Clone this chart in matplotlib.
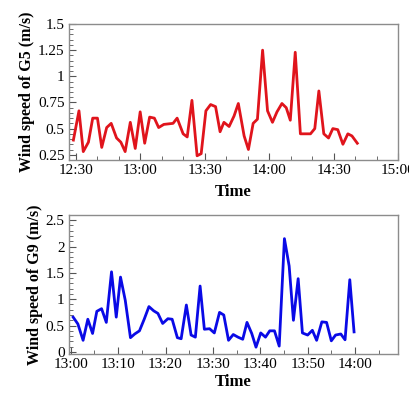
import matplotlib
matplotlib.use("Agg")
import matplotlib.pyplot as plt
from matplotlib.ticker import MultipleLocator, FuncFormatter

# G5: minutes after 12:00 and wind speed (m/s)
g5_minutes = [28.8, 31.4, 33.4, 35.8, 37.8, 40.0, 42.0, 44.3, 46.4, 48.9,
              50.9, 52.9, 55.3, 57.6, 59.9, 62.0, 64.3, 66.5, 68.5, 70.9,
              73.0, 75.2, 77.1, 79.9, 81.8, 84.0, 86.4, 88.3, 90.5, 92.7,
              95.0, 97.1, 98.9, 101.3, 103.6, 105.6, 108.3, 110.3, 112.5, 114.5,
              116.9, 119.2, 121.5, 123.6, 125.9, 127.9, 129.8, 132.1, 134.5, 136.7,
              139.2, 141.2, 143.1, 145.4, 147.6, 149.6, 151.9, 154.3, 156.6, 158.5,
              161.0]
g5_speed = [0.39, 0.67, 0.28, 0.37, 0.60, 0.60, 0.32, 0.51, 0.55, 0.41,
            0.37, 0.28, 0.56, 0.31, 0.66, 0.36, 0.61, 0.60, 0.51, 0.54,
            0.545, 0.55, 0.60, 0.45, 0.42, 0.77, 0.24, 0.26, 0.67, 0.73,
            0.71, 0.47, 0.56, 0.52, 0.62, 0.74, 0.43, 0.30, 0.55, 0.59,
            1.25, 0.67, 0.56, 0.66, 0.74, 0.70, 0.58, 1.23, 0.45, 0.45,
            0.45, 0.50, 0.86, 0.45, 0.41, 0.50, 0.49, 0.35, 0.45, 0.43,
            0.36]

# G9: minutes after 13:00 and wind speed (m/s)
g9_minutes = [0.5, 1.5, 2.6, 3.6, 4.6, 5.5, 6.5, 7.5, 8.6, 9.6,
              10.5, 11.5, 12.6, 13.5, 14.5, 15.5, 16.5, 17.5, 18.4, 19.4,
              20.5, 21.4, 22.5, 23.3, 24.4, 25.4, 26.3, 27.3, 28.2, 29.3,
              30.3, 31.4, 32.3, 33.3, 34.3, 35.3, 36.3, 37.2, 38.2, 39.1,
              40.1, 41.1, 42.0, 43.0, 44.0, 45.1, 46.1, 47.0, 48.0, 48.9,
              50.0, 51.0, 51.9, 53.0, 54.0, 55.0, 55.9, 57.0, 57.9, 58.9,
              59.8]
g9_speed = [0.66, 0.53, 0.22, 0.62, 0.35, 0.77, 0.82, 0.56, 1.52, 0.66,
            1.42, 0.98, 0.27, 0.34, 0.40, 0.62, 0.86, 0.78, 0.73, 0.54,
            0.63, 0.62, 0.27, 0.25, 0.89, 0.32, 0.28, 1.25, 0.43, 0.44,
            0.36, 0.75, 0.70, 0.22, 0.33, 0.28, 0.24, 0.56, 0.35, 0.09,
            0.36, 0.28, 0.40, 0.40, 0.11, 2.15, 1.63, 0.60, 1.39, 0.36,
            0.32, 0.41, 0.22, 0.57, 0.56, 0.21, 0.32, 0.34, 0.23, 1.37,
            0.38]

plt.rcParams['font.family'] = ['Liberation Serif', 'DejaVu Serif']
plt.rcParams['font.size'] = 11


def hhmm(base_hour):
    def fmt(x, pos):
        total = int(round(x)) + base_hour * 60
        return f"{total // 60}:{total % 60:02d}"
    return FuncFormatter(fmt)


def style(ax):
    for s in ax.spines.values():
        s.set_color('#8c8c8c')
        s.set_linewidth(1.0)
    ax.tick_params(which='both', direction='in', color='#555555',
                   top=False, right=False, pad=3, labelsize=11)
    ax.tick_params(which='major', length=5)
    ax.tick_params(which='minor', length=3)


fig = plt.figure(figsize=(4.10, 3.94), dpi=100)

ax1 = fig.add_axes([0.168, 0.594, 0.803, 0.345])
ax1.plot(g5_minutes, g5_speed, color='#e0141c', lw=2.0)
ax1.set_xlim(26.7, 180)
ax1.set_ylim(0.2, 1.5)
ax1.xaxis.set_major_locator(MultipleLocator(30))
ax1.xaxis.set_minor_locator(MultipleLocator(10))
ax1.xaxis.set_major_formatter(hhmm(12))
ax1.yaxis.set_major_locator(MultipleLocator(0.25))
ax1.yaxis.set_minor_locator(MultipleLocator(0.05))
ax1.yaxis.set_major_formatter(FuncFormatter(lambda v, p: f"{v:g}"))
ax1.set_xlabel("Time", fontweight='bold', fontsize=12, labelpad=5)
ax1.set_ylabel("Wind speed of G5 (m/s)", fontweight='bold', fontsize=11.5, labelpad=2)
style(ax1)

ax2 = fig.add_axes([0.168, 0.1015, 0.803, 0.353])
ax2.plot(g9_minutes, g9_speed, color='#0a0ae6', lw=2.0)
ax2.set_xlim(-0.4, 69.1)
ax2.set_ylim(-0.04, 2.6)
ax2.xaxis.set_major_locator(MultipleLocator(10))
ax2.xaxis.set_minor_locator(MultipleLocator(5))
ax2.xaxis.set_major_formatter(hhmm(13))
ax2.yaxis.set_major_locator(MultipleLocator(0.5))
ax2.yaxis.set_minor_locator(MultipleLocator(0.1))
ax2.yaxis.set_major_formatter(FuncFormatter(lambda v, p: f"{v:g}"))
ax2.set_xlabel("Time", fontweight='bold', fontsize=12, labelpad=2)
ax2.set_ylabel("Wind speed of G9 (m/s)", fontweight='bold', fontsize=11.5, labelpad=2)
style(ax2)

fig.savefig("out.png", dpi=100)
